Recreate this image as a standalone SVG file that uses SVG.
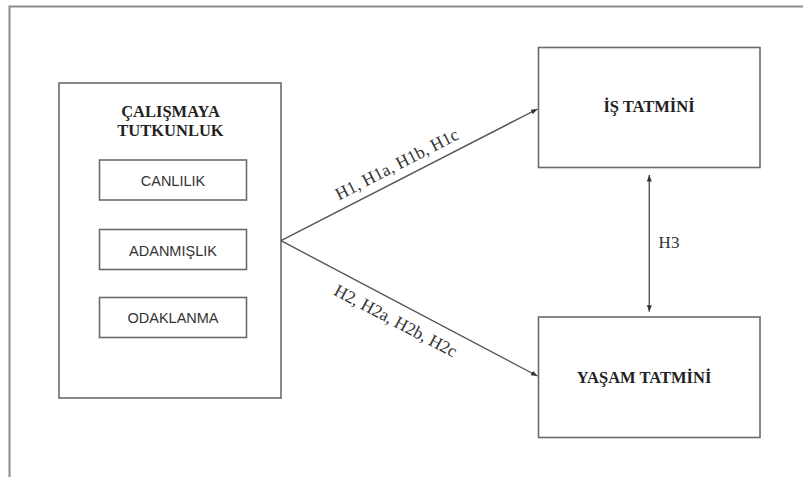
<svg xmlns="http://www.w3.org/2000/svg" width="803" height="477" viewBox="0 0 803 477">
<style>
.box{fill:#fff;stroke:#6b6b6b;stroke-width:1.6}
.sub{fill:#fff;stroke:#6b6b6b;stroke-width:1.6}
.ttl{font-family:"Liberation Serif","Times New Roman",serif;font-weight:700;font-size:16.5px;fill:#222;text-anchor:middle}
.item{font-family:"Liberation Sans",sans-serif;font-size:14.5px;fill:#333;text-anchor:middle}
.lbl{font-family:"Liberation Serif",serif;font-size:17.5px;fill:#333;text-anchor:middle}
.con{fill:none;stroke:#555;stroke-width:1.4}
</style>
<defs>
<marker id="ah" markerUnits="userSpaceOnUse" markerWidth="7" markerHeight="6" refX="6.5" refY="3" orient="auto-start-reverse">
<path d="M0,0.5 L6.5,3 L0,5.5 z" fill="#333"/>
</marker>
</defs>
<rect width="803" height="477" fill="#fff"/>
<path d="M9.5,477 V6.5 H803" fill="none" stroke="#8c8c8c" stroke-width="2"/>
<g id="calismaya-tutkunluk">
<rect class="box" x="59" y="83" width="222" height="315"/>
<text class="ttl" x="170.5" y="117">ÇALIŞMAYA</text>
<text class="ttl" x="170.5" y="136">TUTKUNLUK</text>
</g>
<g id="canlilik">
<rect class="sub" x="99.5" y="160" width="147" height="40"/>
<text class="item" x="173" y="186">CANLILIK</text>
</g>
<g id="adanmislik">
<rect class="sub" x="99.5" y="229.5" width="147" height="40"/>
<text class="item" x="173" y="255.5">ADANMIŞLIK</text>
</g>
<g id="odaklanma">
<rect class="sub" x="99.5" y="297.5" width="147" height="40"/>
<text class="item" x="173" y="322.5">ODAKLANMA</text>
</g>
<g id="is-tatmini">
<rect class="box" x="538.5" y="47.5" width="221.5" height="120"/>
<text class="ttl" x="649" y="112">İŞ TATMİNİ</text>
</g>
<g id="yasam-tatmini">
<rect class="box" x="538.5" y="317" width="221.5" height="120.5"/>
<text class="ttl" x="644" y="383">YAŞAM TATMİNİ</text>
</g>
<g id="connectors">
<line class="con" x1="281" y1="240.7" x2="537.5" y2="109" marker-end="url(#ah)"/>
<line class="con" x1="281" y1="240.7" x2="537.5" y2="376" marker-end="url(#ah)"/>
<line class="con" x1="649.3" y1="175" x2="649.3" y2="311.7" marker-start="url(#ah)" marker-end="url(#ah)"/>
<text class="lbl" transform="translate(399.5,169.5) rotate(-27.2)" x="0" y="0">H1, H1a, H1b, H1c</text>
<text class="lbl" transform="translate(393,326) rotate(27.8)" x="0" y="0">H2, H2a, H2b, H2c</text>
<text class="lbl" x="669" y="248" style="font-size:17px">H3</text>
</g>
</svg>
